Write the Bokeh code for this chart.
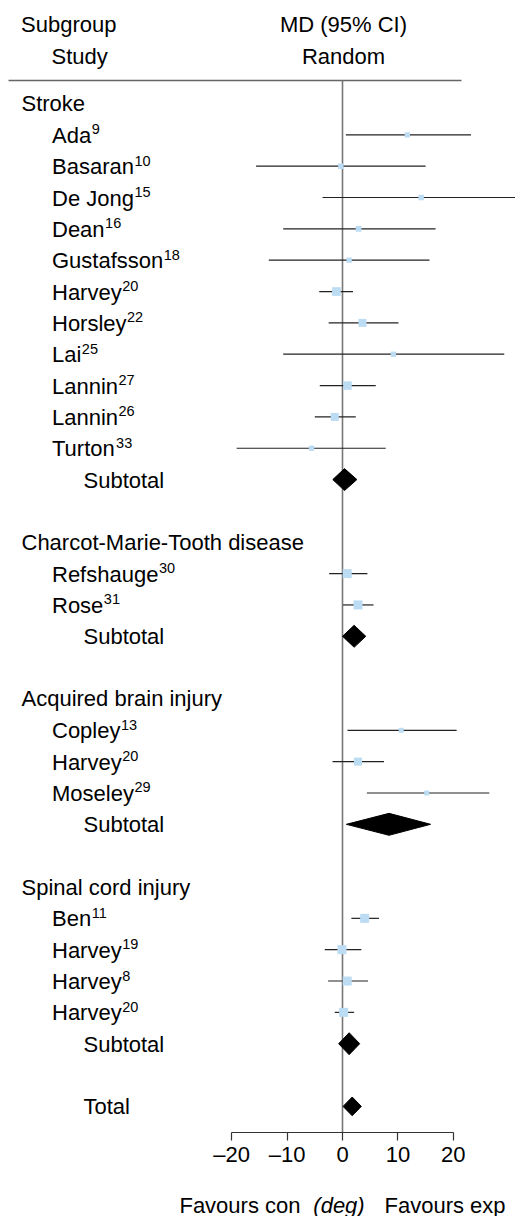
from bokeh.plotting import figure
from bokeh.layouts import column
from bokeh.models import Range1d, LinearAxis, FixedTicker
from bokeh.core.properties import value
from bokeh.embed import file_html
from bokeh.resources import INLINE

# ---------------- data ----------------
groups = ["Stroke", "Charcot-Marie-Tooth disease", "Acquired brain injury", "Spinal cord injury"]

stroke_names = ["Ada", "Basaran", "De Jong", "Dean", "Gustafsson", "Harvey", "Horsley", "Lai", "Lannin", "Lannin", "Turton"]
stroke_refs = ["9", "10", "15", "16", "18", "20", "22", "25", "27", "26", "33"]
stroke_md = [11.7, -0.3, 14.2, 2.9, 1.2, -1.1, 3.6, 9.2, 0.9, -1.4, -5.6]
stroke_lo = [0.6, -15.6, -3.6, -10.7, -13.3, -4.2, -2.5, -10.7, -4.1, -5.0, -19.1]
stroke_hi = [23.2, 15.0, 32.0, 16.8, 15.7, 1.9, 10.1, 29.2, 6.0, 2.4, 7.8]
stroke_w = [5.3, 5.5, 5.5, 5.7, 5.3, 8.7, 8.0, 5.3, 8.5, 8.0, 5.3]

cmt_names = ["Refshauge", "Rose"]
cmt_refs = ["30", "31"]
cmt_md = [0.85, 2.8]
cmt_lo = [-2.4, 0.1]
cmt_hi = [4.5, 5.6]
cmt_w = [9.0, 9.0]

abi_names = ["Copley", "Harvey", "Moseley"]
abi_refs = ["13", "20", "29"]
abi_md = [10.6, 2.8, 15.2]
abi_lo = [0.9, -1.8, 4.4]
abi_hi = [20.6, 7.5, 26.5]
abi_w = [5.0, 8.0, 5.0]

sci_names = ["Ben", "Harvey", "Harvey", "Harvey"]
sci_refs = ["11", "19", "8", "20"]
sci_md = [4.0, -0.1, 0.85, 0.2]
sci_lo = [1.6, -3.2, -2.6, -1.4]
sci_hi = [6.6, 3.4, 4.6, 2.1]
sci_w = [9.0, 9.0, 9.0, 9.0]

subtotal_md = [0.36, 2.1, 8.4, 1.2]
subtotal_lo = [-1.75, 0.0, 0.7, -0.7]
subtotal_hi = [2.6, 4.2, 15.9, 3.1]

total_md = 1.75
total_lo = 0.1
total_hi = 3.4

tick_values = [-20, -10, 0, 10, 20]
tick_labels = ["\u201320", "\u201310", "0", "10", "20"]

caption_parts = ["Favours con", "(deg)", "Favours exp"]

# ---------------- layout helpers ----------------
FONT = "Liberation Sans"
FS = 22
W = 515
FH = 1132            # frame bottom = axis line (page y)
MAIN_H = 1176        # main figure height incl. axis panel
CAP_H = 1216 - MAIN_H
ZERO_PX, PPU = 342.0, 5.54           # page x of 0, pixels per unit
ROW0_PX, STEP = 103.0, 31.34         # page y of first row, row step

def xd(px):
    return (px - ZERO_PX) / PPU

def yd(py):
    return (py - ROW0_PX) / STEP

# Arial / Liberation Sans advance widths (1/1000 em)
AW = {"A": 667, "B": 667, "C": 722, "D": 722, "G": 778, "H": 722, "J": 500, "L": 556, "M": 833,
      "R": 722, "T": 611, "a": 556, "b": 556, "d": 556, "e": 556, "f": 278, "g": 556, "h": 556,
      "i": 222, "l": 222, "n": 556, "o": 556, "p": 556, "r": 333, "s": 500, "t": 278, "u": 556,
      "v": 500, "y": 500, " ": 278}

def tw(s, size):
    return sum(AW.get(c, 556) for c in s) * size / 1000.0

# ---------------- build rows ----------------
all_groups = [
    (stroke_names, stroke_refs, stroke_md, stroke_lo, stroke_hi, stroke_w),
    (cmt_names, cmt_refs, cmt_md, cmt_lo, cmt_hi, cmt_w),
    (abi_names, abi_refs, abi_md, abi_lo, abi_hi, abi_w),
    (sci_names, sci_refs, sci_md, sci_lo, sci_hi, sci_w),
]

hdr_rows, st_rows, st_names, st_refs, st_md, st_lo, st_hi, st_w, sub_rows = [], [], [], [], [], [], [], [], []
r = 0
for g, (nm, rf, md, lo, hi, w) in zip(groups, all_groups):
    hdr_rows.append(r)
    r += 1
    for i in range(len(nm)):
        st_rows.append(r)
        st_names.append(nm[i]); st_refs.append(rf[i])
        st_md.append(md[i]); st_lo.append(lo[i]); st_hi.append(hi[i]); st_w.append(w[i])
        r += 1
    sub_rows.append(r)
    r += 2
total_row = r

# ---------------- main figure ----------------
y_top = yd(0)
y_bot = yd(FH)
p = figure(frame_width=W, frame_height=FH, min_border=0, min_border_bottom=MAIN_H - FH,
           x_range=Range1d(xd(0), xd(W)), y_range=Range1d(y_bot, y_top),
           x_axis_location=None, y_axis_location=None, toolbar_location=None,
           output_backend="svg", outline_line_color=None)
p.grid.visible = False
p.background_fill_color = "white"
p.border_fill_color = "white"

# header rule and zero line
hdr_y = yd(80)
p.segment(x0=[xd(8)], y0=[hdr_y], x1=[xd(461)], y1=[hdr_y], line_color="#666666", line_width=1.5)
p.segment(x0=[0], y0=[hdr_y], x1=[0], y1=[y_bot], line_color="#777777", line_width=1.6)

# confidence intervals and boxes
p.segment(x0=st_lo, y0=st_rows, x1=st_hi, y1=st_rows, line_color="#222222", line_width=1.2)
p.scatter(x=st_md, y=st_rows, size=st_w, marker="square", fill_color="#bcdcf3", line_color=None)

# diamonds
HS, HT = 0.35, 0.30
dx = [[lo, m, hi, m] for lo, m, hi in zip(subtotal_lo, subtotal_md, subtotal_hi)]
dy = [[rr, rr - HS, rr, rr + HS] for rr in sub_rows]
dx.append([total_lo, total_md, total_hi, total_md])
dy.append([total_row, total_row - HT, total_row, total_row + HT])
p.patches(xs=dx, ys=dy, fill_color="black", line_color="black", line_width=1)

# texts
common = dict(text_font=value(FONT), text_font_size=f"{FS}px", text_color="black", text_baseline="middle")
p.text(x=[xd(21)] * len(groups), y=hdr_rows, text=groups, y_offset=0, **common)
p.text(x=[xd(51.5)] * len(st_names), y=st_rows, text=st_names, y_offset=0.5, **common)
p.text(x=[xd(83)] * (len(sub_rows) + 1), y=sub_rows + [total_row],
       text=["Subtotal"] * len(sub_rows) + ["Total"], y_offset=0.5, **common)
p.text(x=[xd(51.5)] * len(st_refs), y=st_rows, text=st_refs,
       x_offset=[tw(n, FS) + 0.5 for n in st_names], y_offset=-5.5,
       text_font=value(FONT), text_font_size="14.5px", text_color="black", text_baseline="middle")

# column headers
p.text(x=[xd(20.5), xd(51)], y=[yd(24.2), yd(56)], text=["Subgroup", "Study"], **common)
p.text(x=[xd(343), xd(343)], y=[yd(24.2), yd(56)], text=["MD (95% CI)", "Random"],
       text_align="center", **common)

# axis
ax = LinearAxis(bounds=(-20, 20), ticker=FixedTicker(ticks=tick_values, minor_ticks=[]))
ax.major_label_overrides = {v: lab for v, lab in zip(tick_values, tick_labels)}
ax.axis_line_color = "#333333"
ax.axis_line_width = 1.2
ax.major_tick_line_color = "#333333"
ax.major_tick_line_width = 1.2
ax.major_tick_out = 8
ax.major_tick_in = 0
ax.minor_tick_out = 0
ax.minor_tick_in = 0
ax.major_label_text_font = FONT
ax.major_label_text_font_size = f"{FS}px"
ax.major_label_text_color = "black"
ax.major_label_standoff = 1
p.add_layout(ax, "below")

# ---------------- caption strip ----------------
c = figure(width=W, height=CAP_H, min_border=0, x_range=p.x_range, y_range=Range1d(CAP_H, 0),
           x_axis_location=None, y_axis_location=None, toolbar_location=None,
           output_backend="svg", outline_line_color=None)
c.grid.visible = False
c.background_fill_color = "white"
c.border_fill_color = "white"
cap_mid = 1204.5 - MAIN_H
c.text(x=[xd(300)], y=[cap_mid], text=[caption_parts[0]], text_align="right", **common)
c.text(x=[xd(338.5)], y=[cap_mid], text=[caption_parts[1]], text_align="center",
       text_font_style="italic", **common)
c.text(x=[xd(384)], y=[cap_mid], text=[caption_parts[2]], text_align="left", **common)

layout = column(p, c, spacing=0)
open("out.html", "w").write(file_html(layout, INLINE))
